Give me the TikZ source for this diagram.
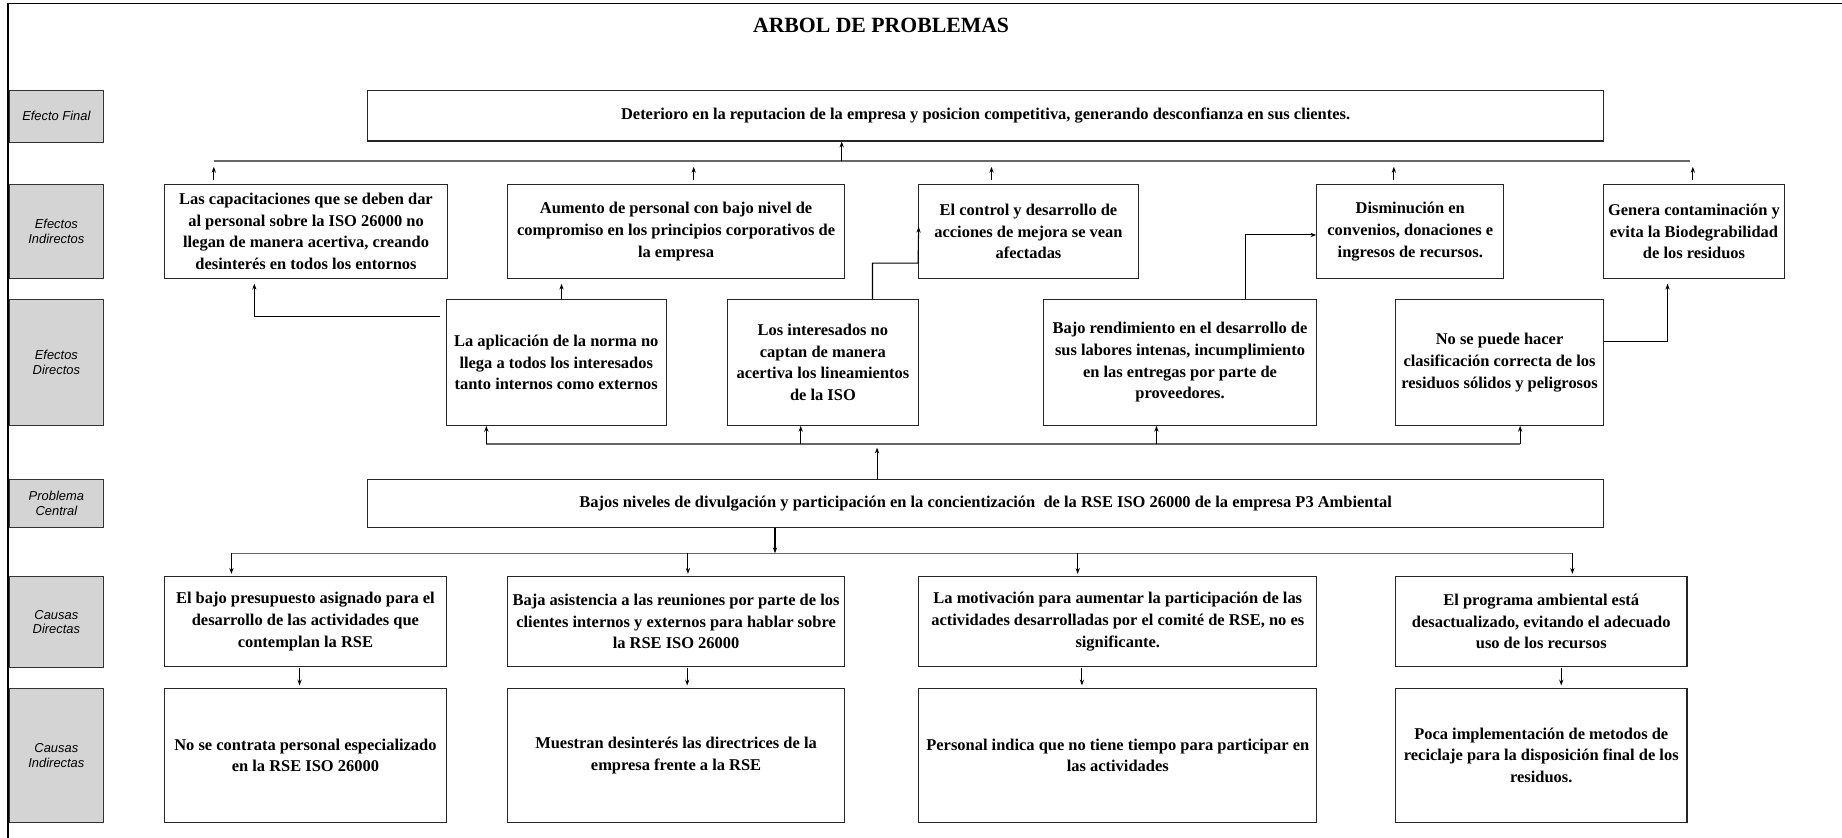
\documentclass[tikz,border=0pt]{standalone}
\usepackage{fontspec}
\setmainfont{Liberation Serif}
\setsansfont{Liberation Sans}
\usetikzlibrary{arrows.meta,calc}
\begin{document}
\begin{tikzpicture}[x=1pt,y=-1pt,
  bx/.style={draw=black!85,line width=1pt,fill=white,inner sep=2pt,align=center,
    font=\bfseries\fontsize{14}{18.5}\selectfont},
  lab/.style={draw=black!80,line width=1pt,fill=black!17,inner sep=0pt,align=center,
    minimum width=80pt,font=\sffamily\itshape\fontsize{11}{12.5}\selectfont},
  arr/.style={draw=black,line width=0.9pt,-{Stealth[length=5pt,width=3.6pt]}},
  bus/.style={draw=black!60,line width=1.1pt},
  frm/.style={draw=black,line width=1.4pt}]
\useasboundingbox (0,0) rectangle (1568,713);
\draw[frm] (7,713) -- (7,3) -- (1568,3);
\node[font=\bfseries\fontsize{18.5}{22}\selectfont] (title) at (750,22) {ARBOL DE PROBLEMAS};
% labels
\node[lab,minimum height=44pt] (L1) at (48,99) {Efecto Final};
\node[lab,minimum height=80pt] (L2) at (48,197) {Efectos\\Indirectos};
\node[lab,minimum height=107pt] (L3) at (48,308.5) {Efectos\\Directos};
\node[lab,minimum height=41pt] (L4) at (48,428.5) {Problema\\Central};
\node[lab,minimum height=77pt] (L5) at (48,529.5) {Causas\\Directas};
\node[lab,minimum height=114pt] (L6) at (48,643) {Causas\\Indirectas};
% efecto final
\node[bx,minimum width=1052pt,minimum height=43pt] (EF) at (839,98.5)
  {Deterioro en la reputacion de la empresa y posicion competitiva, generando desconfianza en sus clientes.};
% efectos indirectos
\node[bx,minimum width=241pt,minimum height=80pt] (EI1) at (260.5,197)
  {Las capacitaciones que se deben dar\\al personal sobre la ISO 26000 no\\llegan de manera acertiva, creando\\desinterés en todos los entornos};
\node[bx,minimum width=287pt,minimum height=80pt] (EI2) at (575.5,197)
  {Aumento de personal con bajo nivel de\\compromiso en los principios corporativos de\\la empresa};
\node[bx,minimum width=187pt,minimum height=80pt] (EI3) at (875.5,197)
  {El control y desarrollo de\\acciones de mejora se vean\\afectadas};
\node[bx,minimum width=159pt,minimum height=80pt] (EI4) at (1200.5,197)
  {Disminución en\\convenios, donaciones e\\ingresos de recursos.};
\node[bx,minimum width=154pt,minimum height=80pt] (EI5) at (1442,197)
  {Genera contaminación y\\evita la Biodegrabilidad\\de los residuos};
% efectos directos
\node[bx,minimum width=187pt,minimum height=107pt] (ED1) at (473.5,308.5)
  {La aplicación de la norma no\\llega a todos los interesados\\tanto internos como externos};
\node[bx,minimum width=163pt,minimum height=107pt] (ED2) at (700.5,308.5)
  {Los interesados no\\captan de manera\\acertiva los lineamientos\\de la ISO};
\node[bx,minimum width=233pt,minimum height=107pt] (ED3) at (1004.5,308.5)
  {Bajo rendimiento en el desarrollo de\\sus labores intenas, incumplimiento\\en las entregas por parte de\\proveedores.};
\node[bx,minimum width=177pt,minimum height=107pt] (ED4) at (1276.5,308.5)
  {No se puede hacer\\clasificación correcta de los\\residuos sólidos y peligrosos};
% problema central
\node[bx,minimum width=1052pt,minimum height=41pt] (PC) at (839,428.5)
  {Bajos niveles de divulgación y participación en la concientización\ \ de la RSE ISO 26000 de la empresa P3 Ambiental};
% causas directas
\node[bx,minimum width=240pt,minimum height=76pt] (CD1) at (260,529)
  {El bajo presupuesto asignado para el\\desarrollo de las actividades que\\contemplan la RSE};
\node[bx,minimum width=287pt,minimum height=76pt] (CD2) at (575.5,529)
  {Baja asistencia a las reuniones por parte de los\\clientes internos y externos para hablar sobre\\la RSE ISO 26000};
\node[bx,minimum width=339pt,minimum height=76pt] (CD3) at (951.5,529)
  {La motivación para aumentar la participación de las\\actividades desarrolladas por el comité de RSE, no es\\significante.};
\node[bx,minimum width=248pt,minimum height=76pt] (CD4) at (1312,529)
  {El programa ambiental está\\desactualizado, evitando el adecuado\\uso de los recursos};
% causas indirectas
\node[bx,minimum width=240pt,minimum height=114pt] (CI1) at (260,643)
  {No se contrata personal especializado\\en la RSE ISO 26000};
\node[bx,minimum width=287pt,minimum height=114pt] (CI2) at (575.5,643)
  {Muestran desinterés las directrices de la\\empresa frente a la RSE};
\node[bx,minimum width=339pt,minimum height=114pt] (CI3) at (951.5,643)
  {Personal indica que no tiene tiempo para participar en\\las actividades};
\node[bx,minimum width=248pt,minimum height=114pt] (CI4) at (1312,643)
  {Poca implementación de metodos de\\reciclaje para la disposición final de los\\residuos.};
% ---- top bus (efectos indirectos -> efecto final)
\coordinate (tbL) at (182,137);
\coordinate (tbR) at (1439,137);
\coordinate (tbM) at (716.5,137);
\draw[bus] (tbL) -- (tbR);
\draw[arr] (tbM) -- (tbM |- EF.south);
\foreach \n/\x in {EI1/182,EI2/590.5,EI3/844,EI4/1186.5,EI5/1441}{
  \draw[arr,shorten <=3pt,shorten >=5pt] (\x,0 |- \n.north) -- (\x,137);
}
% ---- efectos directos -> efectos indirectos
\coordinate (k1) at (216.5,269.6);
\draw[arr,shorten <=5pt,shorten >=4pt] (ED1.west |- k1) -- (k1) -- (k1 |- EI1.south);
\coordinate (k2) at (478,255);
\draw[arr,shorten >=4pt] (k2 |- ED1.north) -- (k2 |- EI2.south);
\coordinate (k3) at (742.7,224);
\coordinate (k4) at (782,193);
\draw[arr] (k3 |- ED2.north) -- (k3) -- (EI3.west |- k3) -- (k4);
\coordinate (k5) at (1060.5,200);
\draw[arr] (k5 |- ED3.north) -- (k5) -- (EI4.west |- k5);
\coordinate (k6) at (1419.5,290.3);
\draw[arr,shorten >=4pt] (ED4.east |- k6) -- (k6) -- (k6 |- EI5.south);
% ---- middle bus (problema central -> efectos directos)
\coordinate (mbL) at (414,378);
\coordinate (mbR) at (1294,378);
\coordinate (mbM) at (746.6,378);
\draw[bus] (mbL) -- (mbR);
\draw[arr,shorten >=3pt] (mbM |- PC.north) -- (mbM);
\foreach \n/\x in {ED1/414,ED2/681.6,ED3/984.4,ED4/1294}{
  \draw[arr] (\x,378) -- (\x,0 |- \n.south);
}
% ---- lower bus (problema central -> causas directas)
\coordinate (lbL) at (197,471);
\coordinate (lbR) at (1338.5,471);
\coordinate (lbM) at (659.7,471);
\draw[bus] (lbL) -- (lbR);
\draw[arr] (lbM |- PC.south) -- (lbM);
\foreach \n/\x in {CD1/197,CD2/585.6,CD3/917.4,CD4/1338.5}{
  \draw[arr,shorten >=2pt] (\x,471) -- (\x,0 |- \n.north);
}
% ---- causas directas -> causas indirectas
\foreach \a/\b/\x in {CD1/CI1/255,CD2/CI2/585,CD3/CI3/921,CD4/CI4/1329}{
  \draw[arr,shorten <=1pt,shorten >=2pt] (\x,0 |- \a.south) -- (\x,0 |- \b.north);
}
\end{tikzpicture}
\end{document}
